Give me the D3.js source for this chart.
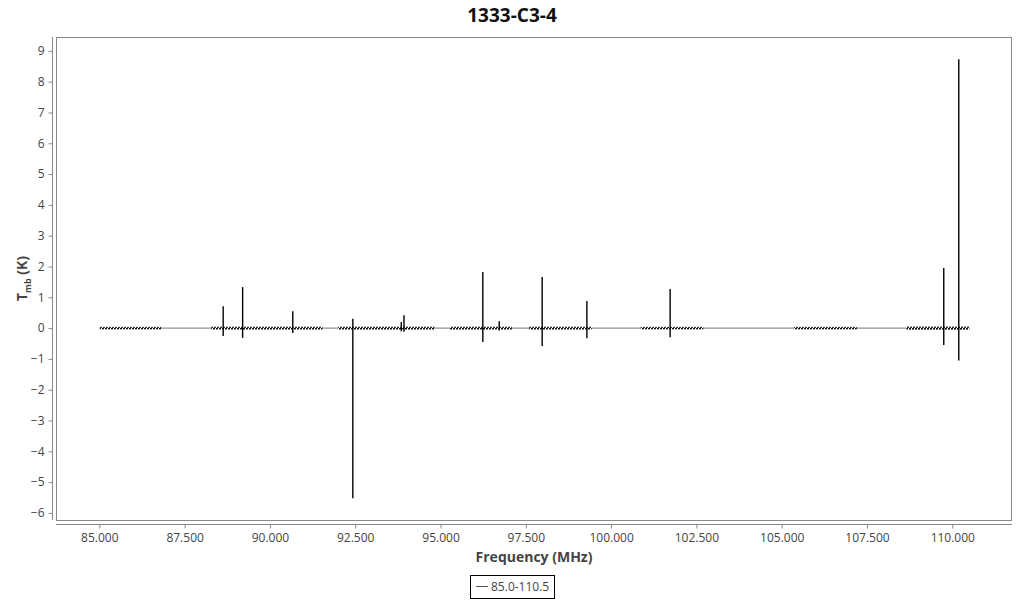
<!DOCTYPE html>
<html>
<head>
<meta charset="utf-8">
<script src="https://cdn.jsdelivr.net/npm/d3@7"></script>
<style>
  html, body { margin: 0; padding: 0; background: #fff; }
  svg { display: block; font-family: "Open Sans", "Noto Sans", sans-serif; }
</style>
</head>
<body>
<svg id="chart" width="1024" height="600"></svg>
<script>
// ---- data ----
const chartTitle = "1333-C3-4";
const seriesName = "85.0-110.5";
const xTicks = [85, 87.5, 90, 92.5, 95, 97.5, 100, 102.5, 105, 107.5, 110];
const yTicks = [-6, -5, -4, -3, -2, -1, 0, 1, 2, 3, 4, 5, 6, 7, 8, 9];
// observed sub-bands (MHz) and their noise level (K)
const segStart = [85.02, 88.28, 92.00, 95.28, 97.60, 100.87, 105.36, 108.66];
const segEnd   = [86.81, 91.54, 94.82, 97.09, 99.43, 102.70, 107.20, 110.50];
const segNoise = [0.04, 0.045, 0.045, 0.045, 0.045, 0.04, 0.04, 0.05];
// spectral lines: frequency, max and min (K)
const lineFreq = [88.63, 89.20, 90.67, 92.43, 93.85, 93.93, 96.24, 96.72, 97.98, 99.29, 101.73, 109.75, 110.19];
const lineMax  = [0.71, 1.33, 0.55, 0.30, 0.20, 0.42, 1.82, 0.22, 1.66, 0.88, 1.27, 1.95, 8.73];
const lineMin  = [-0.26, -0.32, -0.16, -5.52, -0.10, -0.12, -0.45, -0.08, -0.58, -0.33, -0.30, -0.55, -1.05];
const bandStart = 85.0, bandEnd = 110.5;

// ---- layout ----
const svg = d3.select("#chart");
const L = 56, R = 1012, T = 37, B = 520;
const x = d3.scaleLinear().domain([83.73, 111.75]).range([L, R]);
const y = d3.scaleLinear().domain([-6.23, 9.45]).range([B, T]);

svg.append("rect").attr("width", 1024).attr("height", 600).attr("fill", "#fff");

// texture for noisy sub-bands
const defs = svg.append("defs");
const pat = defs.append("pattern").attr("id", "noise").attr("patternUnits", "userSpaceOnUse")
  .attr("width", 3).attr("height", 4);
pat.append("rect").attr("width", 3).attr("height", 4).attr("fill", "#fff");
pat.append("rect").attr("x", 0).attr("y", 0).attr("width", 2).attr("height", 2).attr("fill", "#111");
pat.append("rect").attr("x", 1).attr("y", 2).attr("width", 2).attr("height", 2).attr("fill", "#333");

// title
svg.append("text").attr("x", 512).attr("y", 22).attr("text-anchor", "middle")
  .attr("font-size", 19).attr("font-weight", "bold").attr("fill", "#111").text(chartTitle);

// frame
svg.append("rect").attr("x", L + 0.5).attr("y", T + 0.5).attr("width", R - L - 1).attr("height", B - T)
  .attr("fill", "none").attr("stroke", "#888").attr("stroke-width", 1);

// y axis
const yAxis = svg.append("g").attr("transform", `translate(${L - 3.5},0)`)
  .call(d3.axisLeft(y).tickValues(yTicks).tickFormat(d3.format("d")).tickSize(4).tickPadding(4));
yAxis.select(".domain").attr("stroke", "#888").attr("d", `M0,${T}V${B}`);
yAxis.selectAll(".tick line").attr("stroke", "#888");
yAxis.selectAll(".tick text").attr("fill", "#444").attr("font-size", 12)
  .attr("font-family", "'Open Sans', 'Noto Sans', sans-serif");

// x axis
const xAxis = svg.append("g").attr("transform", `translate(0,${B + 4.5})`)
  .call(d3.axisBottom(x).tickValues(xTicks).tickFormat(d3.format(".3f")).tickSize(4).tickPadding(5));
xAxis.select(".domain").attr("stroke", "#888").attr("d", `M${L},0H${R}`);
xAxis.selectAll(".tick line").attr("stroke", "#888");
xAxis.selectAll(".tick text").attr("fill", "#444").attr("font-size", 12)
  .attr("font-family", "'Open Sans', 'Noto Sans', sans-serif");

// axis labels
svg.append("text").attr("x", (L + R) / 2).attr("y", 562).attr("text-anchor", "middle")
  .attr("font-size", 14).attr("font-weight", "bold").attr("fill", "#444").text("Frequency (MHz)");
const yl = svg.append("text").attr("transform", `translate(27,${(T + B) / 2}) rotate(-90)`)
  .attr("text-anchor", "middle").attr("font-size", 14).attr("font-weight", "bold").attr("fill", "#444");
yl.append("tspan").text("T");
yl.append("tspan").attr("font-size", 9).attr("dy", 4).text("mb");
yl.append("tspan").attr("dy", -4).text(" (K)");

// plot
const plot = svg.append("g");
// baseline connecting all sub-bands
plot.append("line").attr("x1", x(bandStart)).attr("x2", x(bandEnd))
  .attr("y1", y(0)).attr("y2", y(0)).attr("stroke", "#777").attr("stroke-width", 1);

// noise bands
const segs = segStart.map((s, i) => ({ s, e: segEnd[i], n: segNoise[i] }));
plot.selectAll("rect.seg").data(segs).join("rect").attr("class", "seg")
  .attr("x", d => x(d.s)).attr("width", d => x(d.e) - x(d.s))
  .attr("y", d => y(d.n)).attr("height", d => y(-d.n) - y(d.n))
  .attr("fill", "url(#noise)");

// spectral lines
const lines = lineFreq.map((f, i) => ({ f, max: lineMax[i], min: lineMin[i] }));
plot.selectAll("line.spec").data(lines).join("line").attr("class", "spec")
  .attr("x1", d => x(d.f)).attr("x2", d => x(d.f))
  .attr("y1", d => y(d.max)).attr("y2", d => y(d.min))
  .attr("stroke", "#000").attr("stroke-width", 1.4);

// legend
const lg = svg.append("g");
lg.append("rect").attr("x", 470.5).attr("y", 575.5).attr("width", 84).attr("height", 23)
  .attr("fill", "#fff").attr("stroke", "#000").attr("stroke-width", 1);
lg.append("line").attr("x1", 476).attr("x2", 488).attr("y1", 586.5).attr("y2", 586.5)
  .attr("stroke", "#555").attr("stroke-width", 1);
lg.append("text").attr("x", 491).attr("y", 591).attr("font-size", 12).attr("fill", "#444").text(seriesName);
</script>
</body>
</html>
